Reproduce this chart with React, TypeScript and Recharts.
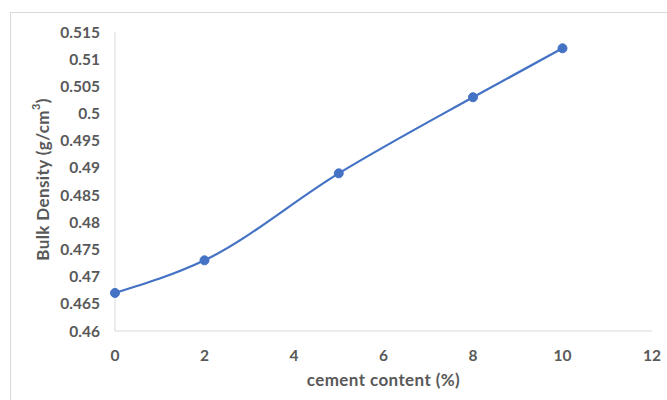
import React from 'react';
import { LineChart, Line, XAxis, YAxis } from 'recharts';

const cementContent = [0, 2, 5, 8, 10];
const bulkDensity = [0.467, 0.473, 0.489, 0.503, 0.512];
const xTicks = [0, 2, 4, 6, 8, 10, 12];
const yTicks = [0.46, 0.465, 0.47, 0.475, 0.48, 0.485, 0.49, 0.495, 0.5, 0.505, 0.51, 0.515];

const data = cementContent.map((c, i) => ({ x: c, y: bulkDensity[i] }));

const FONT = 'Lato, "Open Sans", sans-serif';
const TEXT = '#595959';

const fmtY = (v: number) => String(parseFloat(v.toFixed(3)));

export default function App() {
  return (
    <div style={{ position: 'absolute', left: 0, top: 0, width: 667, height: 400, overflow: 'hidden', background: '#fff' }}>
      <div style={{ position: 'absolute', left: 10, top: 12, width: 700, height: 420, border: '1px solid #d9d9d9', boxSizing: 'border-box' }} />
      <div style={{ position: 'absolute', left: 0, top: 0 }}>
        <LineChart width={667} height={400} data={data} margin={{ top: 32, right: 15, bottom: 9, left: 45 }}>
          <XAxis
            dataKey="x"
            type="number"
            domain={[0, 12]}
            ticks={xTicks}
            interval={0}
            tickLine={false}
            axisLine={{ stroke: '#d9d9d9', strokeWidth: 1 }}
            tickMargin={13}
            height={60}
            tick={{ fill: TEXT, fontSize: 15.5, fontWeight: 700, fontFamily: FONT }}
            label={{ value: 'cement content (%)', position: 'insideBottom', offset: 5, fill: TEXT, fontSize: 17, fontWeight: 700, fontFamily: FONT, letterSpacing: 0.4 }}
          />
          <YAxis
            dataKey="y"
            type="number"
            domain={[0.46, 0.515]}
            ticks={yTicks}
            interval={0}
            tickFormatter={fmtY}
            tickLine={false}
            axisLine={{ stroke: '#d9d9d9', strokeWidth: 1 }}
            tickMargin={9}
            width={70}
            tick={{ fill: TEXT, fontSize: 15.5, fontWeight: 700, fontFamily: FONT }}
            label={{
              content: (props: any) => {
                const vb = props.viewBox || { x: 45, y: 32, width: 70, height: 299 };
                const cx = 42;
                const cy = vb.y + vb.height / 2 - 2;
                return (
                  <text
                    x={cx}
                    y={cy}
                    transform={`rotate(-90, ${cx}, ${cy})`}
                    textAnchor="middle"
                    dominantBaseline="central"
                    fill={TEXT}
                    fontSize={17}
                    fontWeight={700}
                    fontFamily={FONT}
                    letterSpacing={0.4}
                  >
                    Bulk Density (g/cm<tspan fontSize={11} dy={-7}>3</tspan><tspan dy={7}>)</tspan>
                  </text>
                );
              },
            }}
          />
          <Line
            type="monotone"
            dataKey="y"
            stroke="#4472C4"
            strokeWidth={2.25}
            dot={{ r: 4.5, fill: '#4472C4', stroke: '#4472C4', strokeWidth: 1 }}
            isAnimationActive={false}
          />
        </LineChart>
      </div>
    </div>
  );
}
